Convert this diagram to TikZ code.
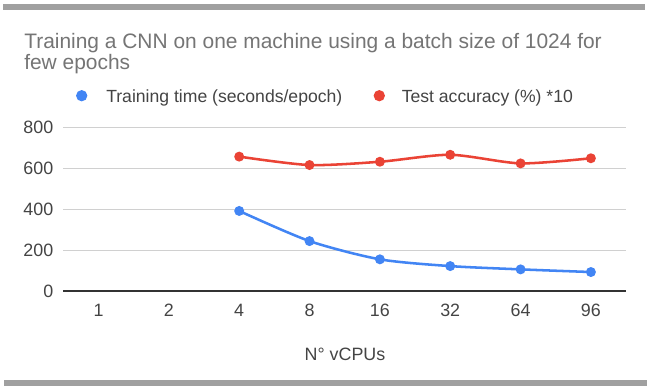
\documentclass[tikz,border=0pt]{standalone}
\usepackage{fontspec}
\setmainfont{Liberation Sans}
\definecolor{seriesblue}{HTML}{4285F4}
\definecolor{seriesred}{HTML}{EA4335}
\definecolor{titlegray}{HTML}{757575}
\definecolor{labelgray}{HTML}{444444}
\definecolor{gridgray}{HTML}{D0D0D0}
\definecolor{bargray}{HTML}{A0A0A0}
\begin{document}
\begin{tikzpicture}[x=0.75pt,y=-0.75pt,
  titletext/.style={anchor=base west,inner sep=0pt,text=titlegray,font=\fontsize{15.7pt}{18pt}\selectfont},
  legendtext/.style={anchor=base west,inner sep=0pt,text=labelgray,font=\fontsize{13.2pt}{15pt}\selectfont},
  ytick/.style={anchor=east,inner sep=0pt,text=labelgray,font=\fontsize{13.4pt}{15pt}\selectfont},
  xtick/.style={anchor=base,inner sep=0pt,text=labelgray,font=\fontsize{13.4pt}{15pt}\selectfont},
  gridline/.style={draw=gridgray,line width=1.1pt},
  baseline axis/.style={draw=black!80,line width=1.5pt},
  dot/.style={circle,fill=#1,inner sep=0pt,minimum size=7.5pt},
  series/.style={draw=#1,line width=1.9pt,line join=round},
  bar/.style={fill=bargray}]
\useasboundingbox (0,0) rectangle (647,387);
\fill[white] (0,0) rectangle (647,387);

% frame bars
\fill[bar] (3,4) rectangle (645,9.5);
\fill[bar] (4,380) rectangle (647,386);

% title
\node[titletext] (title1) at (24,48) {Training a CNN on one machine using a batch size of 1024 for};
\node[titletext] (title2) at (24,69) {few epochs};

% legend
\node[dot=seriesblue,minimum size=8.5pt] (legblue) at (81.7,95.7) {};
\node[legendtext] (legbluetext) at (106,102) {Training time (seconds/epoch)};
\node[dot=seriesred,minimum size=8.5pt] (legred) at (379.3,95.7) {};
\node[legendtext] (legredtext) at (401.5,102) {Test accuracy (\%) *10};

% grid and y labels
\foreach \v/\yy in {800/127.3,600/168.3,400/209.3,200/250.3}{
  \coordinate (gl\v) at (63.3,\yy);
  \coordinate (gr\v) at (626,\yy);
  \draw[gridline] (gl\v) -- (gr\v);
  \node[ytick] (yl\v) at (53.5,\yy) {\v};
}
\coordinate (gl0) at (63.3,291.3);
\coordinate (gr0) at (626,291.3);
\draw[baseline axis] (gl0) -- (gr0);
\node[ytick] (yl0) at (53.5,291.3) {0};

% x labels
\foreach \lab/\xx in {1/98.5,2/168.8,4/239.2,8/309.5,16/379.9,32/450.2,64/520.6,96/590.9}{
  \node[xtick] (xl\lab) at (\xx,316.5) {\lab};
}
\node[xtick] (xtitle) at (345,360) {N° vCPUs};

% data: y in chart units, 0 at 291.3 px, 0.205 px per unit
\begin{scope}[shift={(0,291.3)},yscale=0.205]
  \draw[series=seriesred] plot[smooth,tension=0.45] coordinates
    {(239.2,-657) (309.5,-616) (379.9,-632) (450.2,-666) (520.6,-624) (590.9,-649)};
  \draw[series=seriesblue] plot[smooth,tension=0.45] coordinates
    {(239.2,-392) (309.5,-245) (379.9,-156) (450.2,-123) (520.6,-107) (590.9,-94)};
  \foreach \n/\xx/\v in {a/239.2/657,b/309.5/616,c/379.9/632,d/450.2/666,e/520.6/624,f/590.9/649}{
    \node[dot=seriesred] (r\n) at (\xx,-\v) {};
  }
  \foreach \n/\xx/\v in {a/239.2/392,b/309.5/245,c/379.9/156,d/450.2/123,e/520.6/107,f/590.9/94}{
    \node[dot=seriesblue] (b\n) at (\xx,-\v) {};
  }
\end{scope}
\end{tikzpicture}
\end{document}
